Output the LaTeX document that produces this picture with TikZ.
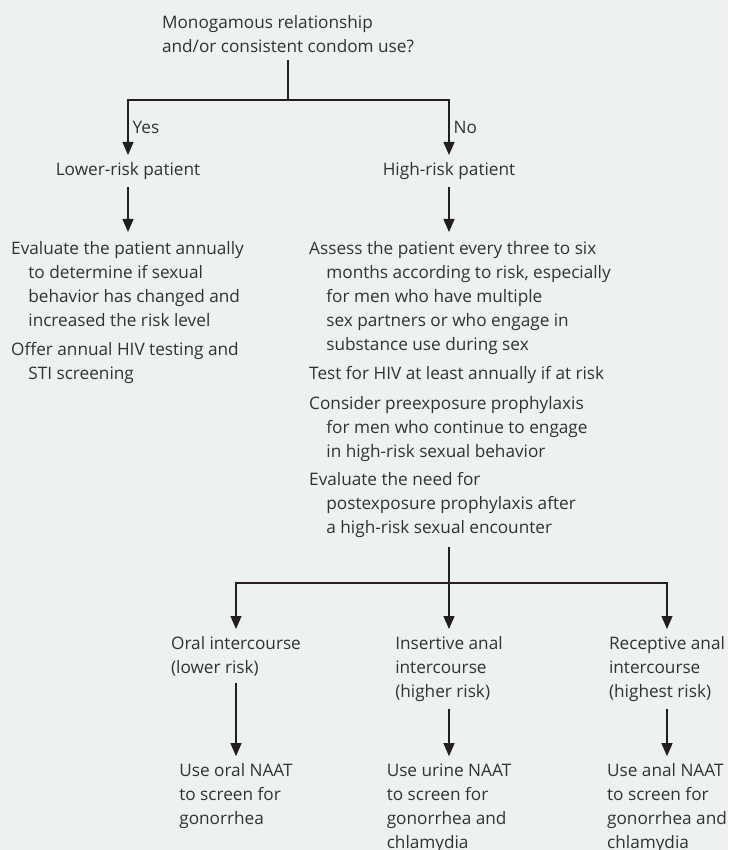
\documentclass[tikz,border=0pt]{standalone}
\usepackage{fontspec}
\setmainfont{Open Sans}
\usepackage{xcolor}
\usetikzlibrary{arrows.meta,positioning}
\definecolor{bgc}{RGB}{237,242,240}
\definecolor{txtc}{RGB}{50,50,50}
\definecolor{linec}{RGB}{35,31,32}

\begin{document}
\begin{tikzpicture}[x=1pt, y=-1pt,
		box/.style={align=left, inner sep=7pt, text=txtc, font=\fontsize{17.2pt}{24pt}\selectfont},
		lab/.style={inner sep=4pt, text=txtc, font=\fontsize{17.2pt}{24pt}\selectfont},
		ln/.style={draw=linec, line width=1.2pt},
		arr/.style={ln, -{Triangle[length=13pt,width=11pt]}}]
	\path[fill=bgc, use as bounding box] (0,0) rectangle (728,850);
	
	\node[box, anchor=south] (mono) at (288,60) {Monogamous relationship\\and/or consistent condom use?};
	\coordinate (split) at (288,100);
	\node[box, anchor=north] (low) at (128,155) {Lower-risk patient};
	\node[box, anchor=north] (high) at (449,155) {High-risk patient};
	\node[box, inner ysep=9pt, anchor=north west] (evl) at (4,232) {Evaluate the patient annually\\\hspace*{1em}to determine if sexual\\\hspace*{1em}behavior has changed and\\\hspace*{1em}increased the risk level\\[5pt]Offer annual HIV testing and\\\hspace*{1em}STI screening};
	\node[box, inner ysep=9pt, anchor=north west] (evr) at (302,232) {Assess the patient every three to six\\\hspace*{1em}months according to risk, especially\\\hspace*{1em}for men who have multiple\\\hspace*{1em}sex partners or who engage in\\\hspace*{1em}substance use during sex\\[5pt]Test for HIV at least annually if at risk\\[6pt]Consider preexposure prophylaxis\\\hspace*{1em}for men who continue to engage\\\hspace*{1em}in high-risk sexual behavior\\[4pt]Evaluate the need for\\\hspace*{1em}postexposure prophylaxis after\\\hspace*{1em}a high-risk sexual encounter};
	\coordinate (fork) at (449,583);
	\node[box, anchor=north] (oral) at (236,629) {Oral intercourse\\(lower risk)};
	\node[box, anchor=north] (ins) at (449,629) {Insertive anal\\intercourse\\(higher risk)};
	\node[box, anchor=north] (rec) at (667,629) {Receptive anal\\intercourse\\(highest risk)};
	\node[box, below=73pt of oral] (uoral) {Use oral NAAT\\to screen for\\gonorrhea};
	\node[box, anchor=north] (uurine) at (ins |- uoral.north) {Use urine NAAT\\to screen for\\gonorrhea and\\chlamydia};
	\node[box, anchor=north] (uanal) at (rec |- uoral.north) {Use anal NAAT\\to screen for\\gonorrhea and\\chlamydia};
	
	\draw[ln] (mono) -- (split);
	\draw[arr] (split) -| node[lab, right, pos=0.75] {Yes} (low);
	\draw[arr] (split) -| node[lab, right, pos=0.75] {No} (high);
	\draw[arr] (low) -- (low |- evl.north);
	\draw[arr] (high) -- (high |- evr.north);
	\draw[ln] (high |- evr.south) -- (fork);
	\draw[arr] (fork) -| (oral);
	\draw[arr] (fork) -- (ins);
	\draw[arr] (fork) -| (rec);
	\draw[arr] (oral) -- (uoral);
	\draw[arr] (ins) -- (uurine);
	\draw[arr] (rec) -- (uanal);
\end{tikzpicture}
\end{document}
